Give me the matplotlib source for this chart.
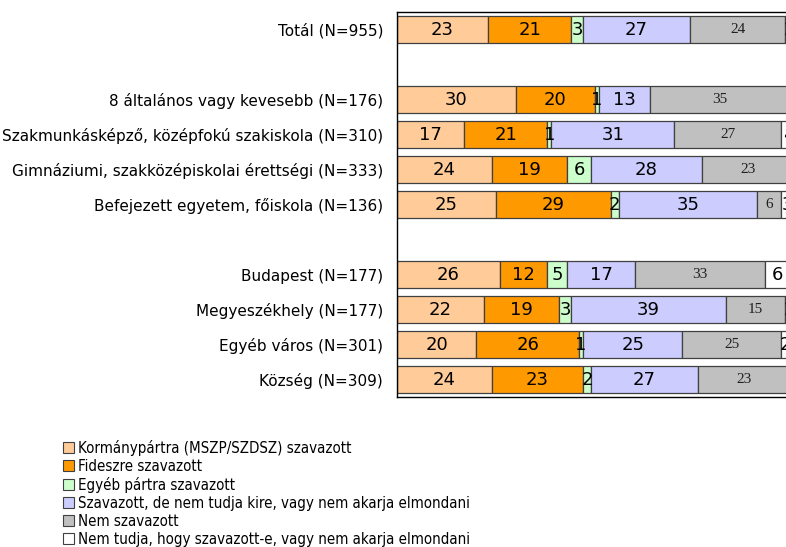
import numpy as np
import matplotlib
matplotlib.use("Agg")
import matplotlib.pyplot as plt
from matplotlib.patches import Patch

# row labels (empty strings are spacer rows)
groups = [
    "Totál (N=955)",
    "",
    "8 általános vagy kevesebb (N=176)",
    "Szakmunkásképző, középfokú szakiskola (N=310)",
    "Gimnáziumi, szakközépiskolai érettségi (N=333)",
    "Befejezett egyetem, főiskola (N=136)",
    "",
    "Budapest (N=177)",
    "Megyeszékhely (N=177)",
    "Egyéb város (N=301)",
    "Község (N=309)",
]

series = [
    "Kormánypártra (MSZP/SZDSZ) szavazott",
    "Fideszre szavazott",
    "Egyéb pártra szavazott",
    "Szavazott, de nem tudja kire, vagy nem akarja elmondani",
    "Nem szavazott",
    "Nem tudja, hogy szavazott-e, vagy nem akarja elmondani",
]

# percentages per series, one value per row (None = spacer row)
kormany = [23, None, 30, 17, 24, 25, None, 26, 22, 20, 24]
fidesz = [21, None, 20, 21, 19, 29, None, 12, 19, 26, 23]
egyeb = [3, None, 1, 1, 6, 2, None, 5, 3, 1, 2]
nemtudja_kire = [27, None, 13, 31, 28, 35, None, 17, 39, 25, 27]
nem_szavazott = [24, None, 35, 27, 23, 6, None, 33, 15, 25, 23]
nemtudja = [2, None, 2, 4, 1, 3, None, 6, 2, 2, 1]

data = [kormany, fidesz, egyeb, nemtudja_kire, nem_szavazott, nemtudja]
colors = ["#FFCC99", "#FF9900", "#CCFFCC", "#CCCCFF", "#C0C0C0", "#FFFFFF"]

fig = plt.figure(figsize=(7.86, 5.47), dpi=100)
ax = fig.add_axes([0.505, 0.274, 0.504, 0.704])

y = np.arange(len(groups))
left = np.zeros(len(groups))
for k, (vals, col) in enumerate(zip(data, colors)):
    v = np.array([0 if x is None else x for x in vals], dtype=float)
    mask = np.array([x is not None for x in vals])
    ax.barh(y[mask], v[mask], left=left[mask], height=0.78, color=col,
            edgecolor="#404040", linewidth=0.9)
    for yi, li, vi, m in zip(y, left, v, mask):
        if not m:
            continue
        if k == 4:
            ax.text(li + vi / 2, yi, f"{int(vi)}", ha="center", va="center",
                    fontsize=11, family="Liberation Serif", color="#202020")
        else:
            ax.text(li + vi / 2, yi, f"{int(vi)}", ha="center", va="center",
                    fontsize=13, color="black")
    left = left + v

ax.set_xlim(0, 100)
ax.set_ylim(10.5, -0.5)
ax.set_xticks([])
ax.set_yticks(y)
ax.set_yticklabels(groups, fontsize=11)
ax.tick_params(axis="y", length=0, pad=10)
for s in ["left", "top", "bottom"]:
    ax.spines[s].set_linewidth(1.0)
ax.spines["right"].set_visible(False)

handles = [Patch(facecolor=c, edgecolor="#404040", linewidth=0.8) for c in colors]
fig.legend(handles, series, loc="upper left", bbox_to_anchor=(0.07, 0.21),
           frameon=False, handlelength=0.75, handleheight=0.75,
           labelspacing=0.2, handletextpad=0.3, borderpad=0,
           prop={"family": "DejaVu Sans", "stretch": "condensed", "size": 10.8})

fig.savefig("out.png", dpi=100)
